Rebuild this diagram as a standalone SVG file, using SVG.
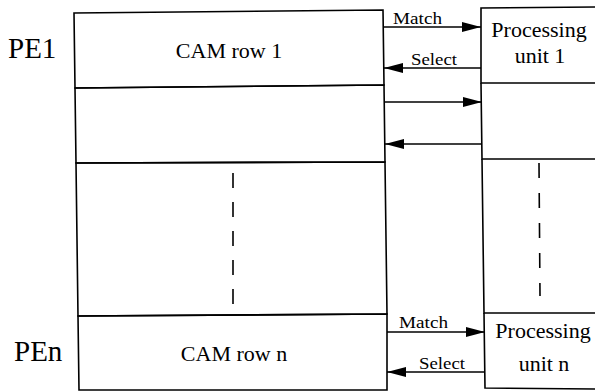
<svg xmlns="http://www.w3.org/2000/svg" width="595" height="392" viewBox="0 0 595 392">
<style>
.ln{stroke:#000;stroke-width:1.6;fill:none}
.dash{stroke:#000;stroke-width:1.6;fill:none;stroke-dasharray:15 14}
.t{font-family:"Liberation Serif","Times New Roman",serif;fill:#000}
.big{font-size:29px}
.mid{font-size:22px}
.sm{font-size:17px}
.conn line{stroke:#000;stroke-width:1.6}
</style>
<defs>
<marker id="ah" markerUnits="userSpaceOnUse" markerWidth="20" markerHeight="12" refX="19" refY="5" orient="auto">
<path d="M0,0 L19,5 L0,10 Z" fill="#000"/>
</marker>
</defs>
<rect width="595" height="392" fill="#fff"/>
<g id="pe1-label"><text class="t big" x="8" y="58">PE1</text></g>
<g id="pen-label"><text class="t big" x="14" y="361">PEn</text></g>
<g id="cam-row-1">
<path class="ln" d="M74,13 L383,10 L384,85 L75,88 Z"/>
<text class="t mid" x="229" y="58" text-anchor="middle">CAM row 1</text>
</g>
<g id="cam-row-2">
<path class="ln" d="M75,88 L384,85 L385,162 L76,163 Z"/>
</g>
<g id="cam-middle">
<path class="ln" d="M76,163 L385,162 L387,314 L78,316 Z"/>
<line class="dash" x1="233" y1="173" x2="233" y2="305"/>
</g>
<g id="cam-row-n">
<path class="ln" d="M78,316 L387,314 L387,390 L79,390 Z"/>
<text class="t mid" x="234" y="361" text-anchor="middle">CAM row n</text>
</g>
<g id="pu-1">
<path class="ln" d="M597,7 L481,8 L481,83 L597,83"/>
<text class="t mid" x="539" y="37" text-anchor="middle">Processing</text>
<text class="t mid" x="540" y="63" text-anchor="middle">unit 1</text>
</g>
<g id="pu-2">
<path class="ln" d="M481,83 L482,159 L597,159"/>
</g>
<g id="pu-middle">
<path class="ln" d="M482,159 L484,313 L597,313"/>
<line class="dash" x1="539" y1="163" x2="540" y2="296" style="stroke-dasharray:15 15"/>
</g>
<g id="pu-n">
<path class="ln" d="M484,313 L485,388 L597,389"/>
<text class="t mid" x="543" y="338" text-anchor="middle">Processing</text>
<text class="t mid" x="544" y="371" text-anchor="middle">unit n</text>
</g>
<g class="conn" id="connectors">
<line x1="384" y1="27" x2="481" y2="27" marker-end="url(#ah)"/>
<line x1="481" y1="68" x2="384" y2="68" marker-end="url(#ah)"/>
<line x1="384" y1="102" x2="482" y2="102" marker-end="url(#ah)"/>
<line x1="482" y1="144" x2="385" y2="144" marker-end="url(#ah)"/>
<line x1="387" y1="332" x2="485" y2="332" marker-end="url(#ah)"/>
<line x1="485" y1="372" x2="387" y2="372" marker-end="url(#ah)"/>
<text class="t sm" x="393" y="24" textLength="49" lengthAdjust="spacingAndGlyphs">Match</text>
<text class="t sm" x="411" y="65" textLength="46" lengthAdjust="spacingAndGlyphs">Select</text>
<text class="t sm" x="399" y="328" textLength="49" lengthAdjust="spacingAndGlyphs">Match</text>
<text class="t sm" x="419" y="369" textLength="46" lengthAdjust="spacingAndGlyphs">Select</text>
</g>
</svg>
